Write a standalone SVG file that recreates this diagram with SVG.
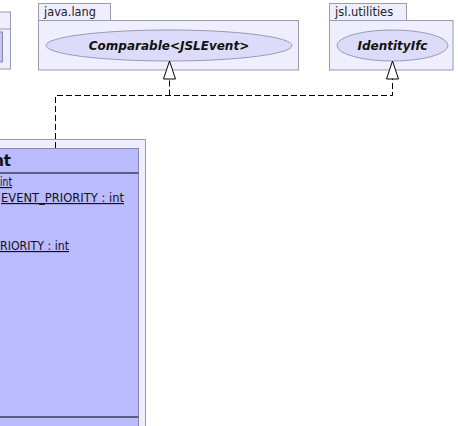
<svg xmlns="http://www.w3.org/2000/svg" width="458" height="426" viewBox="0 0 458 426">
<style>
.pkg{fill:#eeeeff;stroke:#9a9ab0;stroke-width:1}
.ell{fill:#dcdcfa;stroke:#9a9ab0;stroke-width:1}
.cls{fill:#bbbbff;stroke:#8888a8;stroke-width:1}
.pt{font-family:"DejaVu Sans",sans-serif;font-size:11.5px;fill:#222}
.it{font-family:"DejaVu Sans",sans-serif;font-size:12px;font-weight:bold;font-style:italic;fill:#111}
.at{font-family:"DejaVu Sans",sans-serif;font-size:11.5px;fill:#111;text-decoration:underline}
.hd{font-family:"DejaVu Sans",sans-serif;font-size:15px;font-weight:bold;fill:#111}
.dash{fill:none;stroke:#000;stroke-width:1;stroke-dasharray:6,3}
.tri{fill:#fff;stroke:#000;stroke-width:1}
</style>
<rect width="458" height="426" fill="#fff"/>
<g id="pkg-left">
<rect class="pkg" x="-20" y="12" width="30.5" height="57"/>
<line x1="-20" y1="29" x2="10.5" y2="29" stroke="#9a9ab0"/>
<rect x="-20" y="32" width="22.5" height="30" fill="#c4c4f4" stroke="#8888a8"/>
</g>
<g id="pkg-java-lang">
<rect class="pkg" x="38.5" y="3.5" width="72" height="17"/>
<rect class="pkg" x="38.5" y="20.5" width="260" height="49.5"/>
<text class="pt" x="44" y="16" textLength="52" lengthAdjust="spacingAndGlyphs">java.lang</text>
</g>
<g id="Comparable">
<ellipse class="ell" cx="169" cy="45.5" rx="123" ry="15.5"/>
<text class="it" x="169" y="50" text-anchor="middle">Comparable&lt;JSLEvent&gt;</text>
</g>
<g id="pkg-jsl-utilities">
<rect class="pkg" x="329.5" y="3.5" width="77" height="17"/>
<rect class="pkg" x="329.5" y="20.5" width="123.5" height="49.5"/>
<text class="pt" x="335" y="16">jsl.utilities</text>
</g>
<g id="IdentityIfc">
<ellipse class="ell" cx="392.5" cy="45.5" rx="55.5" ry="15.5"/>
<text class="it" x="392.5" y="50" text-anchor="middle">IdentityIfc</text>
</g>
<g id="JSLEvent">
<rect x="-20" y="139.5" width="165.5" height="300" fill="#eeeeff" stroke="#9a9ab0"/>
<rect class="cls" x="-20" y="148.5" width="158.5" height="290"/>
<line x1="-20" y1="173" x2="138.5" y2="173" stroke="#000"/>
<line x1="-20" y1="417" x2="138.5" y2="417" stroke="#000"/>
<text class="hd" x="11" y="166" text-anchor="end">nt</text>
<text class="at" x="0" y="186" textLength="12" lengthAdjust="spacingAndGlyphs">int</text>
<text class="at" x="1" y="202" textLength="123" lengthAdjust="spacingAndGlyphs">EVENT_PRIORITY : int</text>
<text class="at" x="0" y="250" textLength="69" lengthAdjust="spacingAndGlyphs">RIORITY : int</text>
</g>
<g id="connectors">
<polyline class="dash" points="55.5,148 55.5,95.5 392.5,95.5 392.5,79"/>
<line class="dash" x1="169.5" y1="95.5" x2="169.5" y2="79"/>
<polygon class="tri" points="169.5,61 163.5,79 175.5,79"/>
<polygon class="tri" points="392.5,61 386.5,79 398.5,79"/>
</g>
</svg>
